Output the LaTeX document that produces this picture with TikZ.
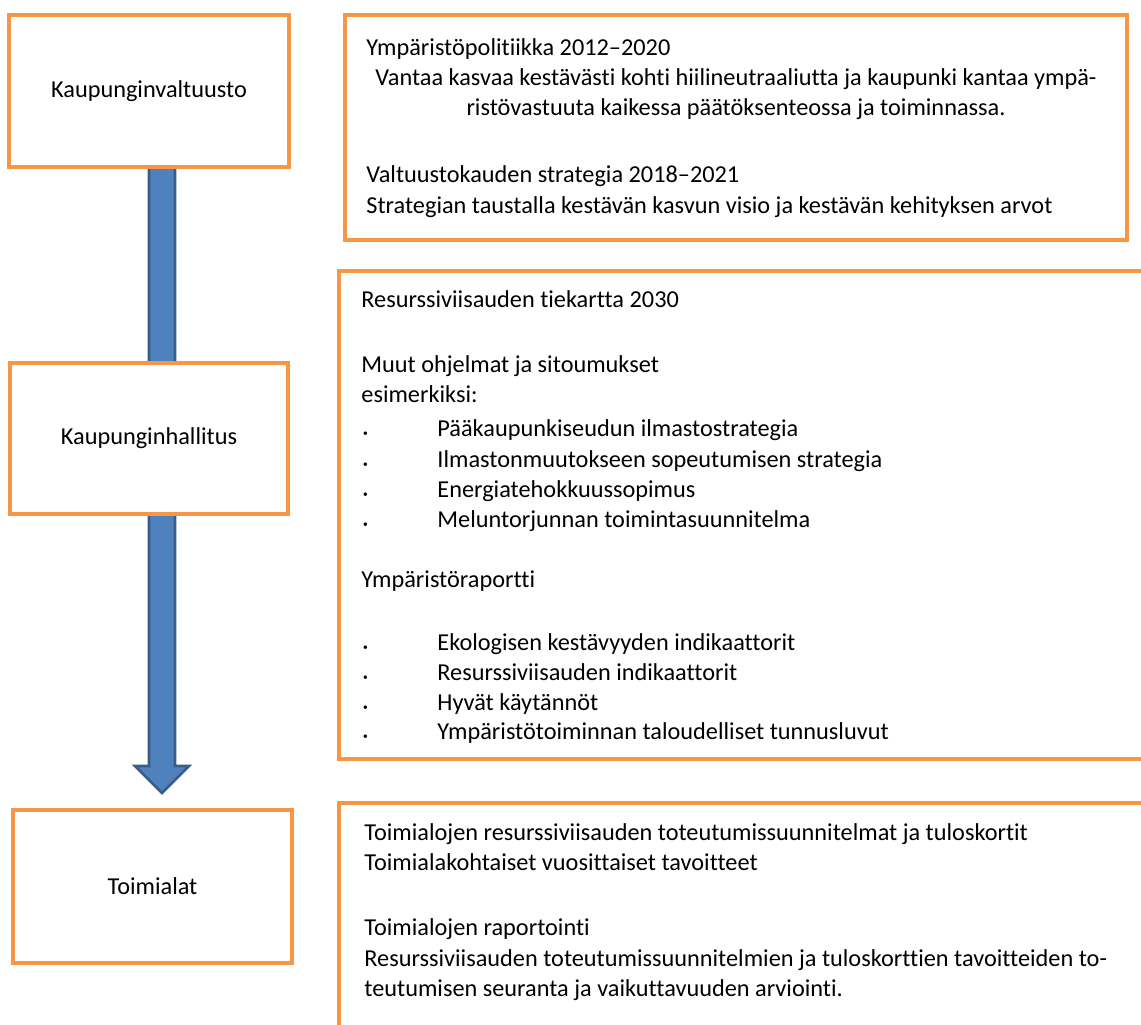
\documentclass[tikz,border=0pt]{standalone}
\usepackage{fontspec}
\setmainfont[Ligatures=NoCommon]{Carlito}
\usetikzlibrary{calc}
\definecolor{boxorange}{HTML}{F79646}
\definecolor{arrowblue}{HTML}{4F81BD}
\definecolor{arrowedge}{HTML}{385D8A}
\tikzstyle{level}=[draw=boxorange, line width=2pt, fill=white, inner sep=0pt]
\tikzstyle{panel}=[draw=boxorange, line width=2pt, fill=white]
\tikzstyle{txt}=[anchor=base west, inner sep=0pt]
\tikzstyle{mid}=[anchor=base, inner sep=0pt]
\tikzstyle{bigarrow}=[fill=arrowblue, draw=arrowedge, line width=1.3pt, line join=miter]

\begin{document}
\begin{tikzpicture}[x=0.5pt, y=-0.5pt, font=\fontsize{12.15pt}{15pt}\selectfont]
    \useasboundingbox (0,0) rectangle (1141,1024);
    \clip (0,0) rectangle (1141,1024);
% Flow arrow
    \coordinate (arrtop) at (162,167);
    \coordinate (arrtip) at (162,793);
    \draw[bigarrow] ($(arrtop)+(-13,0)$) -- ($(arrtip)+(-13,-27)$) -- ($(arrtip)+(-27,-27)$)
        -- (arrtip) -- ($(arrtip)+(27,-27)$) -- ($(arrtip)+(13,-27)$) -- ($(arrtop)+(13,0)$) -- cycle;
% Levels
    \node[level, minimum width=140pt, minimum height=76pt] (valtuusto) at (149,91) {Kaupunginvaltuusto};
    \node[level, minimum width=139pt, minimum height=75.5pt] (hallitus) at (149,438.5) {Kaupunginhallitus};
    \node[level, minimum width=139.5pt, minimum height=76.5pt] (toimialat) at (152.5,886.5) {Toimialat};
% Panels
    \draw[panel] (345,15) rectangle (1127,240);
    \draw[panel] (339,271) rectangle (1160,759);
    \draw[panel] (339,803) rectangle (1160,1060);
% Council texts
    \node[txt] (polku) at (366,55) {Ympäristöpolitiikka 2012–2020};
    \node[mid] (visio1) at (736,85) {Vantaa kasvaa kestävästi kohti hiilineutraaliutta ja kaupunki kantaa ympä-};
    \node[mid] (visio2) at (736,115) {ristövastuuta kaikessa päätöksenteossa ja toiminnassa.};
    \node[txt] (strat1) at (366,182) {Valtuustokauden strategia 2018–2021};
    \node[txt] (strat2) at (366,213) {Strategian taustalla kestävän kasvun visio ja kestävän kehityksen arvot};
% Board texts
    \node[txt] (tiekartta) at (361,307) {Resurssiviisauden tiekartta 2030};
    \node[txt] (muut) at (361,372) {Muut ohjelmat ja sitoumukset};
    \node[txt] (esim) at (361,402) {esimerkiksi:};
    \node[txt] (raportti) at (361,587) {Ympäristöraportti};
    \foreach \y/\t in {436/Pääkaupunkiseudun ilmastostrategia,
                       467/Ilmastonmuutokseen sopeutumisen strategia,
                       497/Energiatehokkuussopimus,
                       527/Meluntorjunnan toimintasuunnitelma,
                       650/Ekologisen kestävyyden indikaattorit,
                       680/Resurssiviisauden indikaattorit,
                       710/Hyvät käytännöt,
                       739/Ympäristötoiminnan taloudelliset tunnusluvut}{
        \node[txt] (dot\y) at (362,\y) {\raisebox{-2pt}{·}};
        \node[txt] (item\y) at (437,\y) {\t};
    }
% Sector texts
    \node[txt] (suunn1) at (364,840) {Toimialojen resurssiviisauden toteutumissuunnitelmat ja tuloskortit};
    \node[txt] (suunn2) at (364,870) {Toimialakohtaiset vuosittaiset tavoitteet};
    \node[txt] (rap1) at (364,935) {Toimialojen raportointi};
    \node[txt] (rap2) at (364,966) {Resurssiviisauden toteutumissuunnitelmien ja tuloskorttien tavoitteiden to-};
    \node[txt] (rap3) at (364,996) {teutumisen seuranta ja vaikuttavuuden arviointi.};
\end{tikzpicture}
\end{document}
